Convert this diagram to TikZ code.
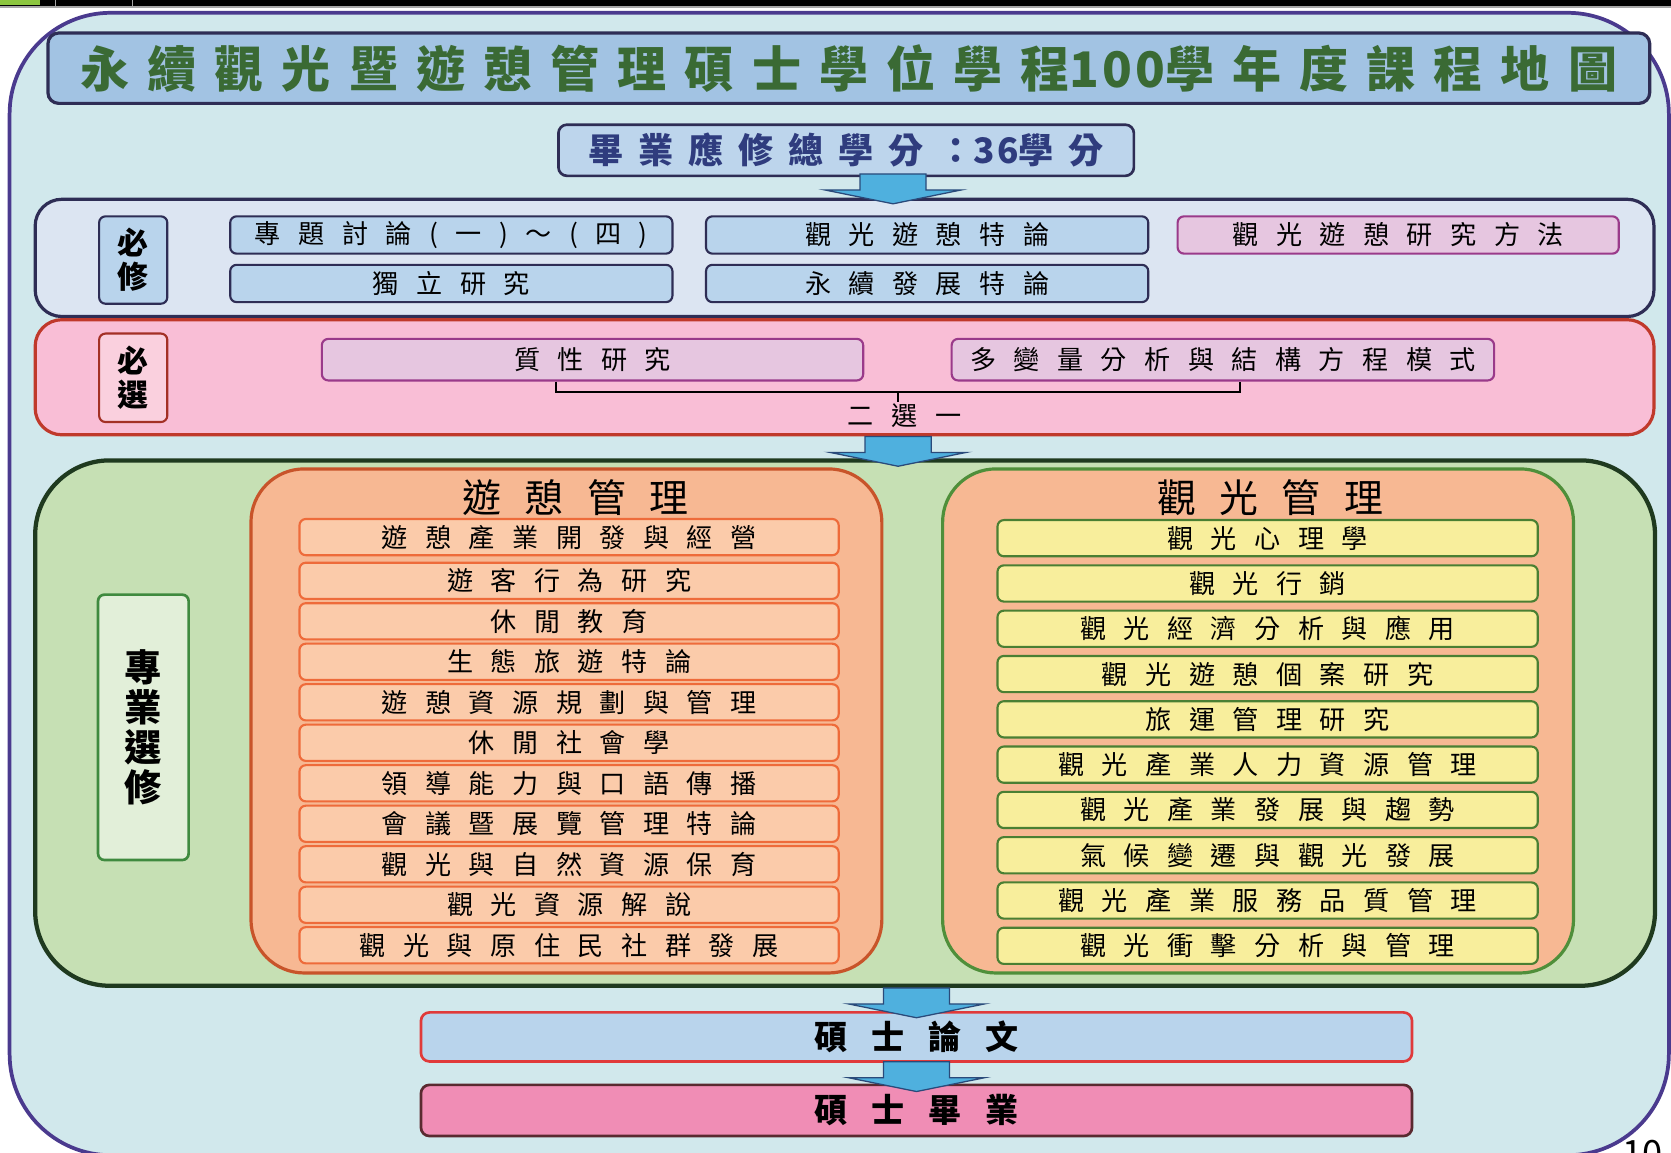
\documentclass[tikz,border=0pt]{standalone}
\usepackage{fontspec}
\setmainfont{Noto Sans CJK TC}
\newfontfamily\titlefont[LetterSpace=37]{Noto Sans CJK TC}
\newfontfamily\creditfont[LetterSpace=42]{Noto Sans CJK TC}
\newfontfamily\itemfont[LetterSpace=67]{Noto Sans CJK TC}
\newfontfamily\grpfont[LetterSpace=60]{Noto Sans CJK TC}
\newfontfamily\thesisfont[LetterSpace=72]{Noto Sans CJK TC}
\newcommand\tightnum[1]{{\addfontfeature{LetterSpace=6}#1}}
\usetikzlibrary{calc}
\definecolor{outerfill}{HTML}{D1E8EC}
\definecolor{outerline}{HTML}{4A3A8E}
\definecolor{titlefill}{HTML}{A2C3E3}
\definecolor{navyline}{HTML}{2E2D55}
\definecolor{titletext}{HTML}{3A6A34}
\definecolor{creditfill}{HTML}{BDD5EC}
\definecolor{credittext}{HTML}{2F3C7E}
\definecolor{reqfill}{HTML}{DCE5F2}
\definecolor{itemblue}{HTML}{B9D4EC}
\definecolor{lilac}{HTML}{E6C6E0}
\definecolor{lilacline}{HTML}{9A3A8A}
\definecolor{selfill}{HTML}{F9BED6}
\definecolor{selline}{HTML}{C0392B}
\definecolor{sellblfill}{HTML}{FAD0DE}
\definecolor{greenfill}{HTML}{C6E0B4}
\definecolor{greenline}{HTML}{1F3A1F}
\definecolor{glblfill}{HTML}{E2EFD9}
\definecolor{glblline}{HTML}{3F8A3F}
\definecolor{peach}{HTML}{F7B893}
\definecolor{peachline}{HTML}{C8542A}
\definecolor{rgline}{HTML}{4F8F3A}
\definecolor{litem}{HTML}{FBCBAA}
\definecolor{litemline}{HTML}{EE6B3A}
\definecolor{ritem}{HTML}{F8EE9C}
\definecolor{ritemline}{HTML}{4A7F33}
\definecolor{thesisline}{HTML}{E03A3A}
\definecolor{gradfill}{HTML}{F08DB5}
\definecolor{gradline}{HTML}{5A2A30}
\definecolor{arrowblue}{HTML}{4FB0DE}
\definecolor{arrowline}{HTML}{2A4A7A}
\definecolor{topgreen}{HTML}{8CC63F}
\tikzset{
  sec/.style={draw, line width=3pt, rounded corners=25pt, inner sep=0pt},
  cbox/.style={draw, line width=2pt, rounded corners=6pt, inner sep=0pt, align=center, text=black},
  itm/.style={cbox, font=\itemfont\fontsize{24.5}{29}\selectfont},
  bluebox/.style={itm, fill=itemblue, draw=navyline, minimum width=415pt, minimum height=35pt},
  lilacbox/.style={itm, fill=lilac, draw=lilacline},
  lbl/.style={cbox, minimum width=64pt, font=\bfseries\fontsize{29}{32}\selectfont},
  lbox/.style={itm, fill=litem, draw=litemline, minimum width=506pt, minimum height=34pt},
  rbox/.style={itm, fill=ritem, draw=ritemline, minimum width=507pt, minimum height=34pt},
  grp/.style={draw, line width=3pt, rounded corners=50pt, fill=peach, minimum width=592pt, minimum height=473pt, inner sep=0pt},
  grptitle/.style={font=\grpfont\fontsize{36.5}{40}\selectfont, text=black, inner sep=0pt},
  bracket/.style={draw=black, line width=2pt},
  arrowsty/.style={fill=arrowblue, draw=arrowline, line width=1.2pt, line join=miter},
  downarrow/.pic={\filldraw[arrowsty] (-31,0) -- (31,0) -- (31,15) -- (64,15) -- (0,28) -- (-64,15) -- (-31,15) -- cycle;}
}
\begin{document}
\begin{tikzpicture}[x=1pt,y=-1pt]
\useasboundingbox (0,0) rectangle (1568,1081);
\fill[white] (0,0) rectangle (1568,1081);
% top bar
\fill[black] (0,0) rectangle (1568,6);
\fill[gray!70] (0,6) rectangle (1568,7.5);
\fill[topgreen] (0,0) rectangle (38,5);
\draw[gray!70, line width=0.8pt] (52,0) -- (52,6) (124,0) -- (124,6);
% outer frame
\draw[fill=outerfill, draw=outerline, line width=3.5pt, rounded corners=95pt] (9,12) rectangle (1566,1084);
% title
\node[sec, rounded corners=10pt, fill=titlefill, draw=navyline, minimum width=1503pt, minimum height=66pt,
      font=\titlefont\bfseries\fontsize{46}{50}\selectfont, text=titletext] (title) at (796.5,64)
      {永續觀光暨遊憩管理碩士學位學程\tightnum{100}學年度課程地圖};
\node[sec, rounded corners=8pt, line width=2.5pt, fill=creditfill, draw=navyline, minimum width=540pt, minimum height=48pt,
      font=\creditfont\bfseries\fontsize{33}{36}\selectfont, text=credittext] (credit) at (794,141)
      {畢業應修總學分：\tightnum{36}學分};
% required section
\node[sec, fill=reqfill, draw=navyline, minimum width=1519pt, minimum height=110pt] (req) at (792.5,242) {};
\node[lbl, fill=itemblue, draw=navyline, minimum height=82pt] (reqlbl) at (125,244) {必\\修};
\node[bluebox] (c1) at (423.5,220.5) {專題討論(一)～(四)};
\node[bluebox] (c2) at (870,220.5) {觀光遊憩特論};
\node[lilacbox, minimum width=414pt, minimum height=35pt] (c3) at (1312,220.5) {觀光遊憩研究方法};
\node[bluebox] (c4) at (423.5,266) {獨立研究};
\node[bluebox] (c5) at (870,266) {永續發展特論};
% elective-required section
\node[sec, fill=selfill, draw=selline, minimum width=1519pt, minimum height=108pt] (sel) at (792.5,354) {};
\node[lbl, fill=sellblfill, draw=selline!85!black, minimum height=83pt] (sellbl) at (125,354.5) {必\\選};
\node[lilacbox, minimum width=508pt, minimum height=39pt] (qual) at (556,337.5) {質性研究};
\node[lilacbox, minimum width=509pt, minimum height=39pt] (multi) at (1147.5,337.5) {多變量分析與結構方程模式};
\coordinate (bl) at ($(qual.south)+(-34,0)$);
\coordinate (br) at ($(multi.south)+(16,0)$);
\draw[bracket] (bl) -- ++(0,10) -| (br);
\coordinate (tk) at ($(bl)!0.5!(br)+(0,10)$);
\draw[bracket] (tk) -- ++(0,9);
\node[font=\itemfont\fontsize{24.5}{29}\selectfont, inner sep=0pt] (pick) at ($(tk)+(6,22)$) {二選一};
% professional electives
\node[sec, rounded corners=70pt, line width=4pt, fill=greenfill, draw=greenline, minimum width=1520pt, minimum height=493pt] (green) at (793,678.5) {};
\node[cbox, fill=glblfill, draw=glblline, line width=2.5pt, minimum width=85pt, minimum height=249pt,
      font=\bfseries\fontsize{35}{37}\selectfont] (glbl) at (134.5,682.5) {\raisebox{-12pt}{\shortstack{專\\[1pt]業\\[1pt]選\\[1pt]修}}};
\node[grp, draw=peachline] (lg) at (531.5,676.5) {};
\node[grp, draw=rgline] (rg) at (1180.5,676.5) {};
\node[grptitle] (lgt) at (540,467) {遊憩管理};
\node[grptitle] (rgt) at (1192,467) {觀光管理};
\foreach \t [count=\i] in {遊憩產業開發與經營, 遊客行為研究, 休閒教育, 生態旅遊特論, 遊憩資源規劃與管理, 休閒社會學, 領導能力與口語傳播, 會議暨展覽管理特論, 觀光與自然資源保育, 觀光資源解說, 觀光與原住民社群發展}{
  \pgfmathsetmacro{\yy}{ifthenelse(\i==1,504,545+38*(\i-2))}
  \node[lbox] (l\i) at (534,\yy) {\t};
}
\foreach \t [count=\i] in {觀光心理學, 觀光行銷, 觀光經濟分析與應用, 觀光遊憩個案研究, 旅運管理研究, 觀光產業人力資源管理, 觀光產業發展與趨勢, 氣候變遷與觀光發展, 觀光產業服務品質管理, 觀光衝擊分析與管理}{
  \pgfmathsetmacro{\yy}{505+42.5*(\i-1)}
  \node[rbox] (r\i) at (1189.5,\yy) {\t};
}
% thesis and graduation
\node[cbox, line width=2.5pt, rounded corners=8pt, fill=itemblue, draw=thesisline, minimum width=930pt, minimum height=46pt,
      font=\thesisfont\bfseries\fontsize{31}{35}\selectfont] (thesis) at (860,973) {碩士論文};
\node[cbox, line width=2.5pt, rounded corners=8pt, fill=gradfill, draw=gradline, minimum width=930pt, minimum height=48pt,
      font=\thesisfont\bfseries\fontsize{31}{35}\selectfont] (grad) at (860,1042) {碩士畢業};
% arrows
\pic at ($(credit.south)+(44,-3)$) {downarrow};
\pic at (tk |- sel.south) {downarrow};
\pic at (thesis.north |- green.south) {downarrow};
\pic at ($(thesis.south)+(0,-1)$) {downarrow};
% page number (partly cut off, as in the slide)
\node[anchor=north west, font=\fontsize{34}{36}\selectfont, inner sep=0pt] (pg) at (1522,1070) {10};
\end{tikzpicture}
\end{document}
